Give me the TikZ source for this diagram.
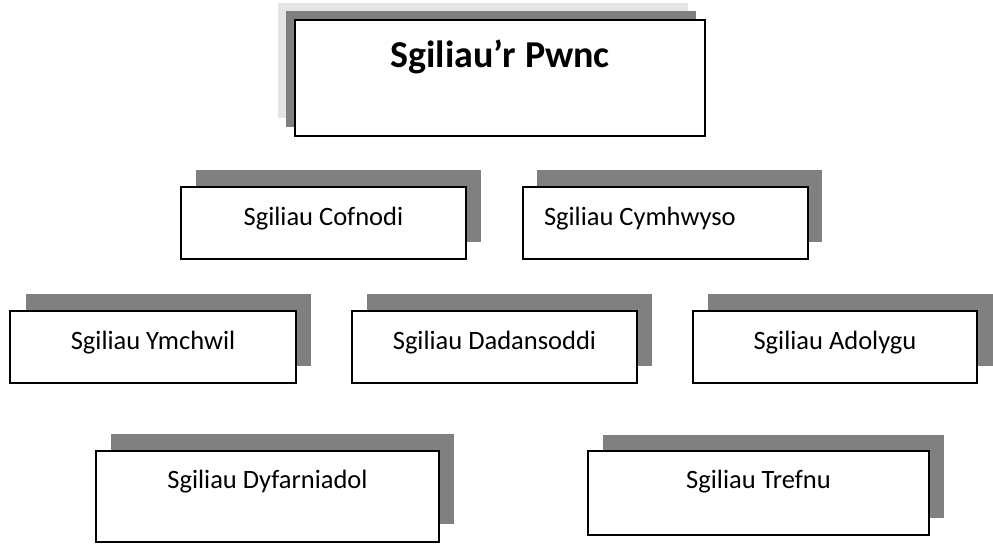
\documentclass[tikz,border=0pt]{standalone}
\usepackage{fontspec}
\setmainfont{Carlito}
\usetikzlibrary{positioning}
\tikzset{
  skillbox/.style={draw, line width=1pt, fill=white, inner sep=0pt, anchor=north west,
    font=\fontsize{13.25}{16}\selectfont, text height=19pt, text depth=17pt},
  boxshadow/.style={fill=black!50, draw=none},
}

\begin{document}
\begin{tikzpicture}[x=0.5pt, y=-0.5pt]
			%%%%% START %%%%%
			\useasboundingbox (0, 0) rectangle (993, 552);
			
			% shadows
			\fill[black!10] (278, 3) rectangle (688, 118);
			\fill[boxshadow] (286, 11) rectangle (696, 127);
			
			\fill[boxshadow] (196, 170) rectangle (481, 242);
			\fill[boxshadow] (537, 170) rectangle (822, 242);
			
			\fill[boxshadow] (26, 294) rectangle (311, 366);
			\fill[boxshadow] (367, 294) rectangle (652, 366);
			\fill[boxshadow] (708, 294) rectangle (993, 366);
			
			\fill[boxshadow] (111, 434) rectangle (454, 524);
			\fill[boxshadow] (603, 435) rectangle (944, 518);
			
			% boxes
			\node[skillbox, line width=1.2pt, minimum width=205pt, text height=23.5pt, text depth=34.5pt,
			  font=\fontsize{19}{23}\selectfont\bfseries] (pwnc) at (294, 19) {Sgiliau’r Pwnc};
			
			\node[skillbox, minimum width=142.5pt] (cofnodi) at (180, 186) {Sgiliau Cofnodi};
			\node[skillbox, minimum width=142.5pt] (cymhwyso) at (522, 186) {\makebox[121.5pt][l]{Sgiliau Cymhwyso}};
			
			\node[skillbox, minimum width=143pt] (ymchwil) at (9, 310) {Sgiliau Ymchwil};
			\node[skillbox, minimum width=142.5pt] (dadansoddi) at (351, 310) {Sgiliau Dadansoddi};
			\node[skillbox, minimum width=142pt] (adolygu) at (692, 310) {Sgiliau Adolygu};
			
			\node[skillbox, minimum width=171.5pt, text height=18.5pt, text depth=27pt] (dyfarniadol) at (95, 450) {Sgiliau Dyfarniadol};
			\node[skillbox, minimum width=170.5pt, text height=18.5pt, text depth=23.5pt] (trefnu) at (587, 450) {Sgiliau Trefnu};
			
			%%%%% END %%%%%
\end{tikzpicture}
\end{document}
